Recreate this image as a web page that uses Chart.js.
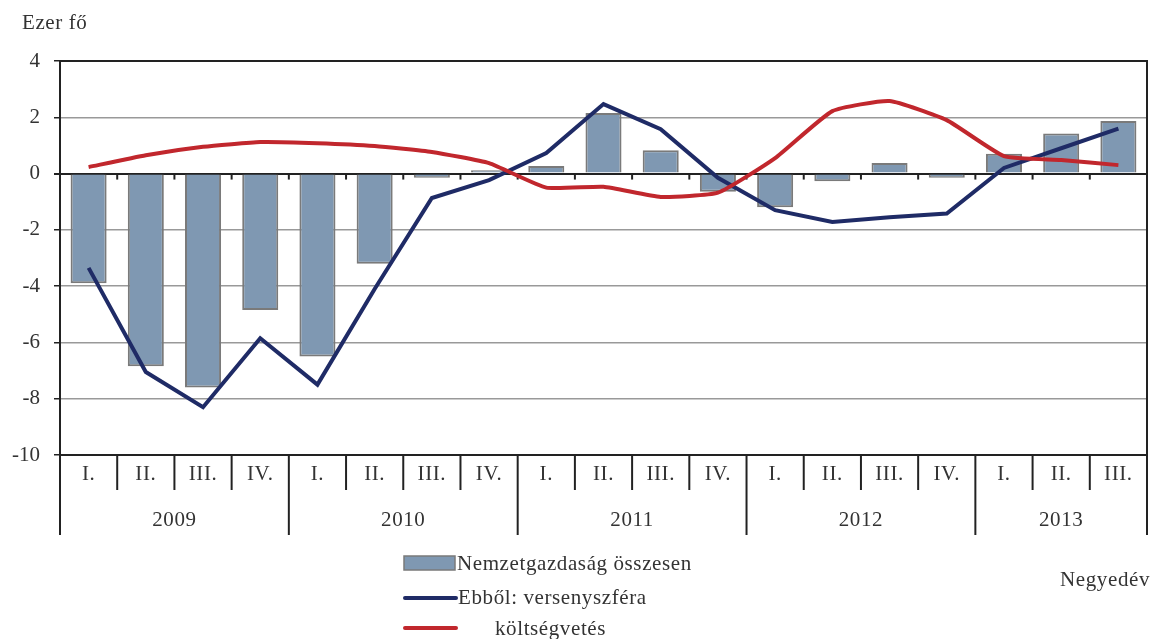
<!DOCTYPE html>
<html>
<head>
<meta charset="utf-8">
<script src="https://cdn.jsdelivr.net/npm/chart.js@4/dist/chart.umd.min.js"></script>
<style>
  html, body { margin: 0; padding: 0; background: #fff; overflow: hidden; }
  #wrap { width: 1156px; height: 639px; }
</style>
</head>
<body>
<div id="wrap"><canvas id="chart" width="1156" height="639"></canvas></div>
<script>
// data (ezer fő, quarterly change)
const quarters = ["I.", "II.", "III.", "IV.", "I.", "II.", "III.", "IV.", "I.", "II.", "III.", "IV.",
  "I.", "II.", "III.", "IV.", "I.", "II.", "III."];
const years = ["2009", "2010", "2011", "2012", "2013"];
const quartersPerYear = [4, 4, 4, 4, 3];
const osszesen = [-3.9, -6.85, -7.6, -4.85, -6.5, -3.2, -0.15, 0.12, 0.27, 2.15, 0.83, -0.65,
  -1.2, -0.27, 0.38, -0.15, 0.7, 1.42, 1.87];
const versenyszfera = [-3.35, -7.05, -8.3, -5.85, -7.5, -4.1, -0.87, -0.23, 0.73, 2.47, 1.58, -0.15,
  -1.3, -1.72, -1.55, -1.42, 0.2, 0.9, 1.6];
const koltsegvetes = [0.23, 0.65, 0.95, 1.12, 1.08, 0.98, 0.77, 0.37, -0.5, -0.47, -0.83, -0.68,
  0.55, 2.22, 2.58, 1.9, 0.62, 0.48, 0.3];
const yTicks = [4, 2, 0, -2, -4, -6, -8, -10];

const FONT = "'Liberation Serif', 'DejaVu Serif', serif";
const FSIZE = 21;
const TXT = "#333";

const decor = {
  id: "decor",
  beforeDatasetsDraw(chart) {
    const c = chart.ctx, x = chart.scales.x, y = chart.scales.y;
    const y0 = y.getPixelForValue(0);
    c.save();
    c.strokeStyle = "#222";
    c.lineWidth = 2;
    for (let i = 1; i < quarters.length; i++) {
      const bx = (x.getPixelForValue(i - 1) + x.getPixelForValue(i)) / 2;
      c.beginPath(); c.moveTo(bx, y0); c.lineTo(bx, y0 + 6); c.stroke();
    }
    c.restore();
  },
  afterDraw(chart) {
    const c = chart.ctx, x = chart.scales.x, a = chart.chartArea;
    const step = x.getPixelForValue(1) - x.getPixelForValue(0);
    c.save();
    c.strokeStyle = "#222";
    c.lineWidth = 2;
    // frame top/right
    c.beginPath();
    c.moveTo(a.left, a.top); c.lineTo(a.right, a.top); c.lineTo(a.right, a.bottom); c.lineTo(a.left, a.bottom);
    c.stroke();
    // category dividers
    let idx = 0;
    const yearStarts = [];
    years.forEach((yr, k) => { yearStarts.push(idx); idx += quartersPerYear[k]; });
    for (let i = 0; i <= quarters.length; i++) {
      const bx = x.getPixelForValue(i) - step / 2;
      const isYear = i === 0 || i === quarters.length || yearStarts.includes(i);
      c.beginPath(); c.moveTo(bx, a.bottom); c.lineTo(bx, a.bottom + (isYear ? 80 : 35)); c.stroke();
    }
    c.fillStyle = TXT;
    c.font = FSIZE + "px " + FONT;
    c.letterSpacing = "0.6px";
    c.textAlign = "center";
    c.textBaseline = "middle";
    quarters.forEach((q, i) => c.fillText(q, x.getPixelForValue(i), a.bottom + 19));
    years.forEach((yr, k) => {
      const s = yearStarts[k], e = s + quartersPerYear[k] - 1;
      c.fillText(yr, (x.getPixelForValue(s) + x.getPixelForValue(e)) / 2, a.bottom + 65);
    });
    // titles
    c.textAlign = "left";
    c.fillText("Ezer fő", 22, 23);
    c.textAlign = "right";
    c.fillText("Negyedév", 1150, 580);
    // legend
    const ds = chart.data.datasets;
    c.textAlign = "left";
    c.fillStyle = ds[0].backgroundColor;
    c.fillRect(404, 556, 51, 14);
    c.strokeStyle = ds[0].borderColor; c.lineWidth = 1.5;
    c.strokeRect(404, 556, 51, 14);
    c.fillStyle = TXT;
    c.fillText(ds[0].label, 457, 564);
    c.lineCap = "round";
    c.lineWidth = 4;
    c.strokeStyle = ds[1].borderColor;
    c.beginPath(); c.moveTo(405, 598); c.lineTo(456, 598); c.stroke();
    c.fillText(ds[1].label, 458, 598);
    c.strokeStyle = ds[2].borderColor;
    c.beginPath(); c.moveTo(405, 628); c.lineTo(456, 628); c.stroke();
    c.fillText(ds[2].label, 495, 629);
    c.restore();
  }
};

new Chart(document.getElementById("chart"), {
  data: {
    labels: quarters.map((q, i) => i),
    datasets: [
      {
        type: "bar",
        label: "Nemzetgazdaság összesen",
        data: osszesen,
        backgroundColor: "#7f98b2",
        borderColor: "#7a7a7a",
        borderWidth: 2,
        barPercentage: 0.63,
        categoryPercentage: 1,
        order: 3
      },
      {
        type: "line",
        label: "Ebből: versenyszféra",
        data: versenyszfera,
        borderColor: "#1f2b66",
        borderWidth: 4,
        pointRadius: 0,
        tension: 0,
        order: 2
      },
      {
        type: "line",
        label: "költségvetés",
        data: koltsegvetes,
        borderColor: "#c1272d",
        borderWidth: 4,
        pointRadius: 0,
        tension: 0.15,
        order: 1
      }
    ]
  },
  options: {
    responsive: false,
    animation: false,
    layout: { padding: { top: 61, right: 9, left: 0, bottom: 0 } },
    plugins: { legend: { display: false }, tooltip: { enabled: false } },
    scales: {
      x: {
        type: "category",
        offset: true,
        grid: { display: false },
        border: { display: false },
        ticks: { display: false },
        afterFit(s) { s.height = 184; }
      },
      y: {
        min: -10,
        max: 4,
        afterBuildTicks(s) { s.ticks = yTicks.map(v => ({ value: v })); },
        afterFit(s) { s.width = 60; },
        border: { display: true, color: "#222", width: 2 },
        grid: {
          color: ctx => (ctx.tick && (ctx.tick.value === 0 || ctx.tick.value === 4)) ? "#222" : "#999",
          lineWidth: ctx => (ctx.tick && ctx.tick.value === 0) ? 2 : 1.5,
          tickColor: "#222",
          tickLength: 6
        },
        ticks: {
          color: TXT,
          padding: 14,
          font: { family: FONT, size: FSIZE }
        }
      }
    }
  },
  plugins: [decor]
});
</script>
</body>
</html>
